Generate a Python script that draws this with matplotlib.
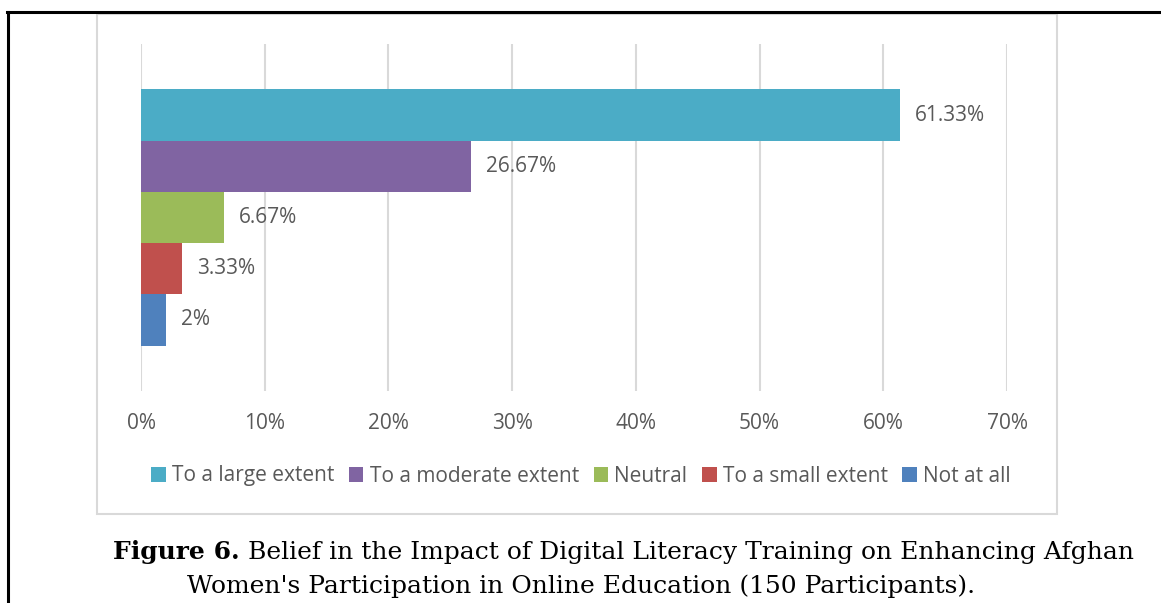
import matplotlib.pyplot as plt
from matplotlib.patches import Rectangle
from matplotlib.lines import Line2D

# Respostas (%)
categorias = ['To a large extent', 'To a moderate extent', 'Neutral',
              'To a small extent', 'Not at all']
valores = [61.33, 26.67, 6.67, 3.33, 2]
rotulos = ['61.33%', '26.67%', '6.67%', '3.33%', '2%']
cores = ['#4BACC6', '#8064A2', '#9BBB59', '#C0504D', '#4F81BD']
ticks_x = [0, 10, 20, 30, 40, 50, 60, 70]

cinza = '#595959'
fonte = 'Open Sans'
serifa = 'DejaVu Serif'

W, H = 1161, 603
fig = plt.figure(figsize=(W / 100, H / 100), dpi=100)

# Camada de fundo em pixels: moldura, caixa do grafico e legenda da figura
bg = fig.add_axes([0, 0, 1, 1])
bg.set_xlim(0, W)
bg.set_ylim(H, 0)
bg.axis('off')
bg.add_line(Line2D([7, W], [12, 12], color='black', lw=2.2))
bg.add_line(Line2D([8, 8], [12, H], color='black', lw=2.2))
bg.add_patch(Rectangle((97, 14), 960, 500, fill=False, edgecolor='#d9d9d9', lw=1.5))

t1 = bg.text(113, 559, 'Figure 6.', fontsize=18, fontweight='bold',
             family=serifa, ha='left', va='baseline')
bg.annotate(' Belief in the Impact of Digital Literacy Training on Enhancing Afghan',
            xy=(1, 0), xycoords=t1, fontsize=18, family=serifa,
            ha='left', va='bottom')
bg.text(187, 593, "Women's Participation in Online Education (150 Participants).",
        fontsize=18, family=serifa, ha='left', va='baseline')

# Grafico de barras horizontais
ax = fig.add_axes([141 / W, 1 - 391 / H, 866 / W, 347 / H])
larg = 0.738 / 5
for i, (cat, v, r, c) in enumerate(zip(categorias, valores, rotulos, cores)):
    y = (i - 2) * larg
    ax.barh(y, v, height=larg, color=c, label=cat)
    ax.annotate(r, xy=(v, y), xytext=(11, 0), textcoords='offset points',
                va='center', ha='left', fontsize=15, color=cinza, family=fonte)

ax.set_ylim(0.5, -0.5)
ax.set_xlim(0, 70)
ax.set_xticks(ticks_x)
ax.set_xticklabels([f'{t}%' for t in ticks_x], fontsize=15, color=cinza, family=fonte)
ax.set_yticks([])
ax.tick_params(axis='x', length=0, pad=16)
ax.grid(axis='x', color='#d9d9d9', lw=1.5)
ax.set_axisbelow(True)
for s in ax.spines.values():
    s.set_visible(False)

leg = fig.legend(loc='center', bbox_to_anchor=(581 / W, 1 - 476 / H), ncol=5,
                 frameon=False, handlelength=0.7, handleheight=0.7,
                 handletextpad=0.3, columnspacing=0.7,
                 prop={'family': fonte, 'size': 15})
for t in leg.get_texts():
    t.set_color(cinza)

fig.savefig('out.png', dpi=100)
